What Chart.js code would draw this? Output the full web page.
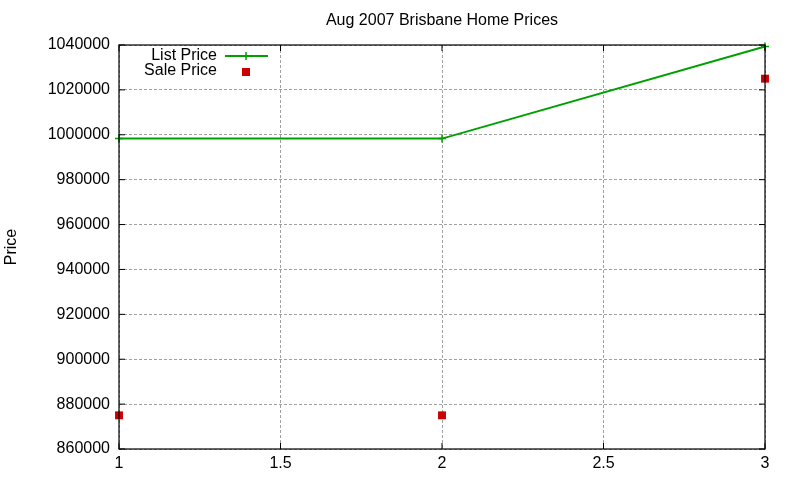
<!DOCTYPE html>
<html><head><meta charset="utf-8">
<script src="https://cdn.jsdelivr.net/npm/chart.js@4/dist/chart.umd.min.js"></script>
<style>html,body{margin:0;padding:0;background:#fff}#wrap{width:800px;height:480px}</style>
</head><body><div id="wrap"><canvas id="c" width="800" height="480"></canvas></div>
<script>
const titleText = 'Aug 2007 Brisbane Home Prices';
const yLabel = 'Price';
const xValues = [1, 2, 3];
const listPrice = [998300, 998300, 1039300];
const salePrice = [875000, 875000, 1025000];
const seriesNames = ['List Price', 'Sale Price'];
const xTicks = [1, 1.5, 2, 2.5, 3];
const yMin = 860000, yMax = 1040000, yStep = 20000;

const FONT = '"Liberation Sans", Arial, sans-serif';
const GREEN = '#00a000', RED = '#cc0000';

const deco = {
  id: 'deco',
  afterDraw(chart) {
    const ctx = chart.ctx, a = chart.chartArea;
    const xs = chart.scales.x, ys = chart.scales.y;
    ctx.save();
    ctx.strokeStyle = '#000'; ctx.lineWidth = 1.2; ctx.setLineDash([]);
    ctx.strokeRect(a.left, a.top, a.right - a.left, a.bottom - a.top);
    ctx.lineWidth = 1;
    ctx.beginPath();
    ys.ticks.forEach(t => {
      const y = ys.getPixelForValue(t.value);
      ctx.moveTo(a.left, y); ctx.lineTo(a.left + 6, y);
      ctx.moveTo(a.right, y); ctx.lineTo(a.right - 6, y);
    });
    xs.ticks.forEach(t => {
      const x = xs.getPixelForValue(t.value);
      ctx.moveTo(x, a.bottom); ctx.lineTo(x, a.bottom - 6);
      ctx.moveTo(x, a.top); ctx.lineTo(x, a.top + 6);
    });
    ctx.stroke();
    ctx.fillStyle = '#000';
    ctx.font = '16px ' + FONT;
    ctx.textAlign = 'center'; ctx.textBaseline = 'middle';
    ctx.fillText(titleText, (a.left + a.right) / 2, 21);
    ctx.save();
    ctx.translate(12, (a.top + a.bottom) / 2);
    ctx.rotate(-Math.PI / 2);
    ctx.fillText(yLabel, 0, 0);
    ctx.restore();
    ctx.textAlign = 'right';
    ctx.fillText(seriesNames[0], 217, 56);
    ctx.fillText(seriesNames[1], 217, 71);
    ctx.strokeStyle = GREEN; ctx.lineWidth = 2;
    ctx.beginPath(); ctx.moveTo(225, 56); ctx.lineTo(268, 56); ctx.stroke();
    ctx.lineWidth = 1.5;
    ctx.beginPath(); ctx.moveTo(246, 52); ctx.lineTo(246, 60); ctx.moveTo(242, 56); ctx.lineTo(250, 56); ctx.stroke();
    ctx.fillStyle = RED;
    ctx.fillRect(242, 68, 8, 8);
    ctx.restore();
  }
};

new Chart(document.getElementById('c'), {
  type: 'scatter',
  data: {
    datasets: [
      {
        label: seriesNames[0],
        data: xValues.map((x, i) => ({ x, y: listPrice[i] })),
        showLine: true,
        borderColor: GREEN, backgroundColor: GREEN,
        borderWidth: 2,
        pointStyle: 'cross', pointRadius: 4, pointBorderWidth: 1.5,
        pointBorderColor: GREEN,
        clip: false
      },
      {
        label: seriesNames[1],
        data: xValues.map((x, i) => ({ x, y: salePrice[i] })),
        showLine: false,
        backgroundColor: RED, borderColor: RED,
        pointStyle: 'rect', pointRadius: 5.6, pointBorderWidth: 0,
        clip: false
      }
    ]
  },
  options: {
    responsive: false, animation: false,
    layout: { padding: { top: 45, right: 35, left: 0, bottom: 0 } },
    plugins: { legend: { display: false }, title: { display: false }, tooltip: { enabled: false } },
    scales: {
      x: {
        type: 'linear', min: 1, max: 3,
        afterBuildTicks: s => { s.ticks = xTicks.map(v => ({ value: v })); },
        afterFit: s => { s.height = 31; },
        ticks: { color: '#000', font: { size: 16, family: FONT }, padding: 5, maxRotation: 0, callback: v => String(v) },
        grid: { color: '#a0a0a0', lineWidth: 1, drawTicks: false },
        border: { display: false, dash: [3, 2] }
      },
      y: {
        type: 'linear', min: yMin, max: yMax,
        ticks: { stepSize: yStep, color: '#000', font: { size: 16, family: FONT }, padding: 9, callback: v => String(v) },
        afterFit: s => { s.width = 119; },
        grid: { color: '#a0a0a0', lineWidth: 1, drawTicks: false },
        border: { display: false, dash: [3, 2] }
      }
    }
  },
  plugins: [deco]
});
</script></body></html>
